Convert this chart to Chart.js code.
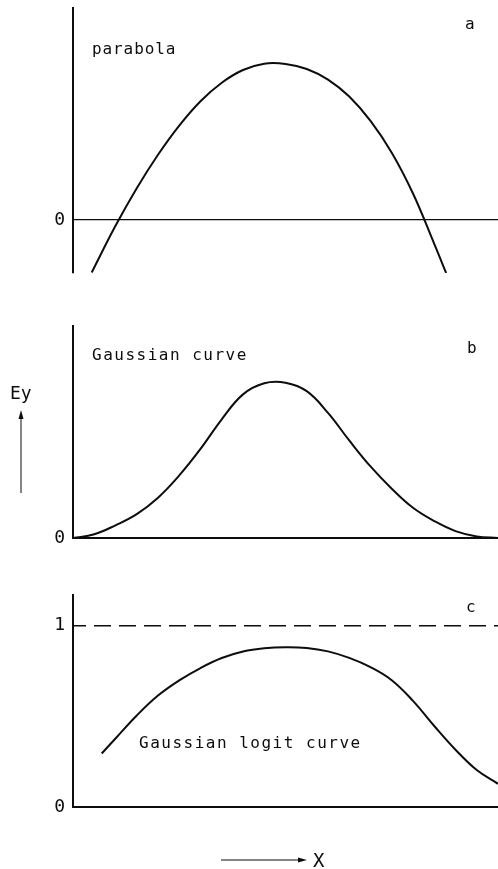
<!DOCTYPE html>
<html><head><meta charset="utf-8">
<script src="https://cdn.jsdelivr.net/npm/chart.js@4"></script>
<style>
html,body{margin:0;padding:0;background:#fff;width:498px;height:869px;overflow:hidden;}
canvas{position:absolute;left:0;}
</style></head><body>
<canvas id="ca" width="498" height="290" style="top:0px"></canvas>
<canvas id="cb" width="498" height="250" style="top:300px"></canvas>
<canvas id="cc" width="498" height="309" style="top:560px"></canvas>
<script>
// ---- data (x in 0..100 across the panel width) ----
const xParabola = [4.4, 10, 15, 20, 25, 30, 35, 40, 45, 50, 55, 60, 65, 70, 75, 80, 85, 87.8];
const yParabola = [-0.99, -0.11, 0.60, 1.23, 1.78, 2.24, 2.59, 2.83, 2.95, 2.945, 2.85, 2.65, 2.33, 1.87, 1.27, 0.50, -0.45, -1.0];

const xGauss = [0, 5, 10, 15, 20, 25, 30, 35, 40, 45, 50, 55, 60, 65, 70, 75, 80, 85, 90, 95, 100];
const yGauss = [0, 0.07, 0.24, 0.45, 0.76, 1.18, 1.68, 2.24, 2.71, 2.92, 2.93, 2.77, 2.36, 1.84, 1.35, 0.93, 0.57, 0.32, 0.13, 0.03, 0];

const xLogit = [6.75, 10, 15, 20, 25, 30, 35, 40, 45, 50, 55, 60, 65, 70, 75, 80, 85, 90, 95, 100];
const yLogit = [0.295, 0.378, 0.505, 0.615, 0.699, 0.767, 0.822, 0.858, 0.876, 0.882, 0.878, 0.859, 0.823, 0.772, 0.700, 0.586, 0.447, 0.316, 0.204, 0.128];

const xAsymptote = [0, 100];
const yAsymptote = [1, 1];

const ticksA = [0];
const ticksB = [0];
const ticksC = [0, 1];

const labelA = 'parabola', tagA = 'a';
const labelB = 'Gaussian curve', tagB = 'b';
const labelC = 'Gaussian logit curve', tagC = 'c';
const axisYLabel = 'Ey', axisXLabel = 'X';

const INK = '#0d0d0d';
const MONO = '"DejaVu Sans Mono", "Liberation Mono", monospace';

function pts(xs, ys){ return xs.map((x,i)=>({x:x, y:ys[i]})); }

function makeChart(id, datasets, ymin, ymax, tickVals, zeroWidth, pad, drawText){
  return new Chart(document.getElementById(id), {
    type: 'line',
    data: { datasets: datasets },
    options: {
      responsive: false, animation: false,
      layout: { padding: pad },
      plugins: { legend: {display:false}, tooltip: {enabled:false} },
      elements: { point: { radius: 0 } },
      scales: {
        x: { type: 'linear', min: 0, max: 100, display: false },
        y: {
          type: 'linear', min: ymin, max: ymax,
          afterFit: s => { s.width = 73; s.paddingTop = 0; s.paddingBottom = 0; },
          afterBuildTicks: s => { s.ticks = tickVals.map(v => ({value: v})); },
          border: { display: true, color: INK, width: 2 },
          grid: {
            drawTicks: false,
            color: c => (c.tick && c.tick.value === 0) ? INK : 'rgba(0,0,0,0)',
            lineWidth: zeroWidth
          },
          ticks: { color: INK, padding: 8, font: { family: MONO, size: 18 } }
        }
      }
    },
    plugins: [{ id: 'txt', afterDraw(chart){ const c = chart.ctx; c.save(); c.fillStyle = INK; c.strokeStyle = INK; drawText(c); c.restore(); } }]
  });
}

function curve(xs, ys, extra){
  return Object.assign({ data: pts(xs, ys), borderColor: INK, borderWidth: 2, fill: false, tension: 0.4 }, extra || {});
}

makeChart('ca', [curve(xParabola, yParabola)], -1, 4, ticksA, 1.3,
  {top: 8, bottom: 17, left: 0, right: 0},
  c => {
    c.font = '16px ' + MONO; c.letterSpacing = '0.9px';
    c.fillText(labelA, 92, 54);
    c.letterSpacing = '0px';
    c.fillText(tagA, 465, 29);
  });

makeChart('cb', [curve(xGauss, yGauss)], 0, 4, ticksB, 2,
  {top: 26, bottom: 12, left: 0, right: 0},
  c => {
    c.font = '16px ' + MONO; c.letterSpacing = '1.5px';
    c.fillText(labelB, 92, 60);
    c.letterSpacing = '0px';
    c.fillText(tagB, 467, 53);
    c.font = '18px ' + MONO;
    c.fillText(axisYLabel, 10, 99);
    c.lineWidth = 1;
    c.beginPath(); c.moveTo(21, 193); c.lineTo(21, 117); c.stroke();
    c.beginPath(); c.moveTo(21, 110); c.lineTo(18.5, 119); c.lineTo(23.5, 119); c.closePath(); c.fill();
  });

makeChart('cc', [curve(xLogit, yLogit), curve(xAsymptote, yAsymptote, {borderWidth: 1.5, borderDash: [17, 8], borderDashOffset: 4, tension: 0})],
  0, 1.17, ticksC, 2,
  {top: 35, bottom: 62, left: 0, right: 0},
  c => {
    c.font = '16px ' + MONO; c.letterSpacing = '1.5px';
    c.fillText(labelC, 139, 188);
    c.letterSpacing = '0px';
    c.fillText(tagC, 466, 52);
    c.font = '19px ' + MONO;
    c.fillText(axisXLabel, 313, 307);
    c.lineWidth = 1;
    c.beginPath(); c.moveTo(221, 300); c.lineTo(300, 300); c.stroke();
    c.beginPath(); c.moveTo(307, 300); c.lineTo(298, 297.5); c.lineTo(298, 302.5); c.closePath(); c.fill();
  });
</script>
</body></html>
